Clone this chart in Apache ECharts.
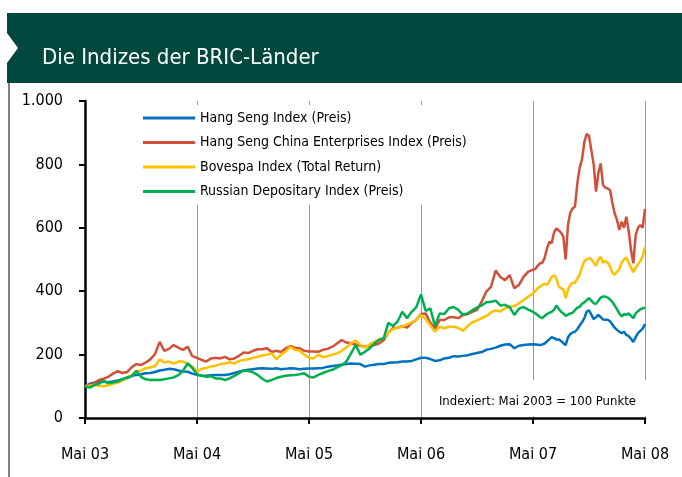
<!DOCTYPE html>
<html>
<head>
<meta charset="utf-8">
<script src="https://cdn.jsdelivr.net/npm/echarts@6/dist/echarts.min.js"></script>
<style>
  html, body { margin: 0; padding: 0; background: #fff; }
  #chart { width: 682px; height: 477px; }
</style>
</head>
<body>
<div id="chart"></div>
<script>
// Die Indizes der BRIC-Länder, Mai 2003 = 100

const tickLabels = ['Mai 03', 'Mai 04', 'Mai 05', 'Mai 06', 'Mai 07', 'Mai 08'];
const seriesNames = [
    'Hang Seng Index (Preis)',
    'Hang Seng China Enterprises Index (Preis)',
    'Bovespa Index (Total Return)',
    'Russian Depositary Index (Preis)'
];
const colors = ['#0070c0', '#d0503a', '#ffc000', '#00b050'];

// Werte: Mai 03 - Mai 07 halbmonatlich (97), danach wöchentlich (48)
const hangSeng = [
    100,108,112,115,114,113,115,118,122,126,132,136,138,141,142,145,150,152,155,154,150,147,146,140,136,
    134,133,135,136,136,136,138,142,146,150,152,154,156,157,156,155,157,154,155,157,156,154,155,156,
    156,157,158,162,164,166,168,170,172,171,170,162,166,168,170,170,174,175,176,178,178,180,185,190,
    190,186,180,182,188,190,195,194,196,198,202,205,208,215,218,222,228,232,233,220,228,230,232,233,
    232,231,230,232,235,242,248,255,252,248,248,243,236,230,255,265,270,272,280,292,302,315,335,340,
    326,312,318,325,318,311,310,310,305,295,285,278,272,268,272,262,258,250,240,255,268,275,282,296
];
const hscei = [
    100,105,110,120,124,130,140,148,142,145,160,170,167,175,185,202,240,212,218,230,222,215,225,195,190,
    183,178,188,190,188,193,185,188,196,207,205,212,217,217,220,208,212,208,220,227,222,220,212,210,
    210,209,215,218,225,235,246,238,236,232,228,225,228,230,235,245,270,283,285,290,285,300,310,328,
    330,300,283,309,309,318,318,315,325,328,335,341,367,399,414,465,445,435,451,409,420,446,462,468,
    470,480,488,490,505,535,556,551,585,598,592,585,572,500,610,648,661,667,740,790,815,870,896,890,
    845,800,714,772,803,735,727,724,719,680,645,625,593,619,600,635,590,530,488,577,600,609,600,660
];
const bovespa = [
    100,102,104,102,100,103,108,112,118,128,135,146,150,157,160,163,185,175,178,172,178,178,172,162,147,
    155,158,162,165,170,172,176,172,180,183,185,190,193,197,200,204,185,200,210,225,215,212,200,190,
    188,200,192,195,200,204,212,222,236,244,230,222,232,240,248,252,270,280,285,288,295,302,310,325,
    312,292,272,288,283,288,288,284,275,290,302,308,315,322,333,340,336,346,350,353,362,372,383,393,
    400,410,414,420,423,420,432,445,450,441,414,410,405,378,405,420,427,427,440,452,475,495,500,504,
    501,490,480,500,508,490,495,490,478,458,452,462,470,490,500,507,490,475,460,475,485,495,510,540
];
const rdx = [
    100,96,104,108,118,110,112,115,122,128,132,149,130,122,120,121,120,122,125,128,135,149,172,158,138,
    133,130,132,125,125,120,125,133,141,150,148,144,136,124,115,120,126,130,133,135,136,138,141,130,
    128,136,142,148,152,160,166,178,204,230,200,209,220,235,246,252,300,290,305,335,315,335,350,390,
    338,346,290,330,328,346,350,341,325,330,340,348,355,365,367,370,355,357,350,325,345,350,342,335,
    330,325,318,315,322,328,332,335,341,355,345,335,330,322,326,330,332,340,348,351,360,365,372,378,
    370,362,360,370,380,383,383,380,374,366,355,343,330,320,328,325,330,322,315,330,337,343,346,348
];

// Zeitachse in Monaten ab Mai 03
const months = [];
for (let i = 0; i <= 96; i++) months.push(i / 2);
for (let k = 1; k <= 48; k++) months.push(48 + k / 4);

const allValues = [hangSeng, hscei, bovespa, rdx];
const font = "'Liberation Sans Narrow', 'DejaVu Sans Condensed', sans-serif";

const dom = document.getElementById('chart');
const myChart = echarts.init(dom);

const option = {
    animation: false,
    textStyle: { fontFamily: font },
    grid: { left: 85, right: 37, top: 101, bottom: 59 },
    xAxis: {
        type: 'value',
        min: 0,
        max: 60,
        interval: 12,
        axisLine: { lineStyle: { color: '#000', width: 2.5 } },
        axisTick: { show: true, length: 6, lineStyle: { color: '#000', width: 2 } },
        axisLabel: {
            margin: 29,
            fontSize: 16,
            color: '#000',
            fontFamily: font,
            formatter: v => tickLabels[Math.round(v / 12)]
        },
        splitLine: { show: true, lineStyle: { color: '#999', width: 1 } }
    },
    yAxis: {
        type: 'value',
        min: 0,
        max: 1000,
        interval: 200,
        axisLine: { show: true, lineStyle: { color: '#000', width: 2.5 } },
        axisTick: { show: true, length: 6, lineStyle: { color: '#000', width: 2 } },
        axisLabel: {
            margin: 22,
            fontSize: 16,
            color: '#000',
            fontFamily: font,
            formatter: v => v >= 1000 ? (v / 1000) + '.' + String(v % 1000).padStart(3, '0') : String(v)
        },
        splitLine: { show: false }
    },
    legend: {
        orient: 'vertical',
        left: 138,
        top: 105,
        padding: [4, 10, 4, 5],
        backgroundColor: '#fff',
        itemGap: 6.5,
        itemWidth: 52,
        itemHeight: 3,
        icon: 'rect',
        textStyle: { fontSize: 14, lineHeight: 18, color: '#000', fontFamily: font },
        data: seriesNames
    },
    graphic: [
        { type: 'rect', shape: { x: 7, y: 13, width: 675, height: 70 }, style: { fill: '#00473d' }, z: 10 },
        { type: 'polygon', shape: { points: [[7, 33], [18, 48], [7, 63]] }, style: { fill: '#fff' }, z: 11 },
        { type: 'line', shape: { x1: 9, y1: 83, x2: 9, y2: 477 }, style: { stroke: '#000', lineWidth: 1 }, z: 10 },
        {
            type: 'text', left: 42, top: 47, z: 11,
            style: { text: 'Die Indizes der BRIC-Länder', fill: '#fff', font: "22px 'Liberation Sans Narrow', 'DejaVu Sans Condensed', sans-serif" }
        },
        { type: 'rect', shape: { x: 426, y: 380, width: 226, height: 36 }, style: { fill: '#fff' }, z: 10 },
        {
            type: 'text', right: 46, top: 395, z: 11,
            style: { text: 'Indexiert: Mai 2003 = 100 Punkte', fill: '#000', font: "13px 'Liberation Sans Narrow', 'DejaVu Sans Condensed', sans-serif" }
        }
    ],
    series: allValues.map((vals, s) => ({
        name: seriesNames[s],
        type: 'line',
        showSymbol: false,
        symbol: 'none',
        lineStyle: { width: 2.5, color: colors[s] },
        itemStyle: { color: colors[s] },
        data: vals.map((v, i) => [months[i], v])
    }))
};

myChart.setOption(option);
</script>
</body>
</html>
